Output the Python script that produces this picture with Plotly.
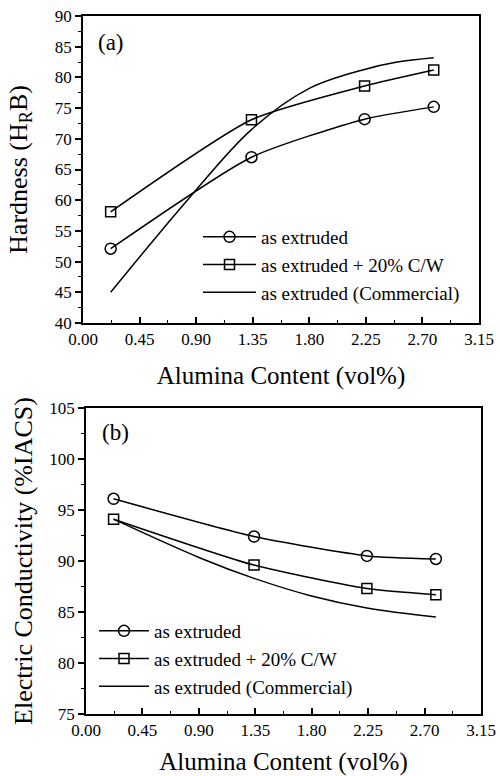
import plotly.graph_objects as go

# ---- data ----
x_pts = [0.22, 1.34, 2.24, 2.79]
hard_extruded = [52.1, 67.0, 73.2, 75.2]
hard_cw = [58.1, 73.1, 78.6, 81.2]
hard_comm_x = [0.22, 0.83, 1.34, 1.80, 2.24, 2.50, 2.79]
hard_comm_y = [45.0, 60.0, 71.5, 78.2, 81.3, 82.5, 83.2]

cond_extruded = [96.1, 92.4, 90.5, 90.2]
cond_cw = [94.1, 89.6, 87.3, 86.7]
cond_comm_x = [0.22, 0.91, 1.34, 1.79, 2.24, 2.79]
cond_comm_y = [94.1, 90.3, 88.3, 86.6, 85.4, 84.5]

x_ticks = [0.00, 0.45, 0.90, 1.35, 1.80, 2.25, 2.70, 3.15]
names = ["as extruded", "as extruded + 20% C/W", "as extruded (Commercial)"]

FONT = "Liberation Serif"
BLACK = "black"

fig = go.Figure()

def add_panel(xa, ya, leg, y1, y2, cx, cy):
    fig.add_trace(go.Scatter(x=x_pts, y=y1, name=names[0], mode="lines+markers",
        line=dict(color=BLACK, width=1.5, shape="spline", smoothing=0.6),
        marker=dict(symbol="circle-open", size=11, color=BLACK, line=dict(width=1.5)),
        xaxis=xa, yaxis=ya, legend=leg))
    fig.add_trace(go.Scatter(x=x_pts, y=y2, name=names[1], mode="lines+markers",
        line=dict(color=BLACK, width=1.5, shape="spline", smoothing=0.6),
        marker=dict(symbol="square-open", size=10, color=BLACK, line=dict(width=1.5)),
        xaxis=xa, yaxis=ya, legend=leg))
    fig.add_trace(go.Scatter(x=cx, y=cy, name=names[2], mode="lines",
        line=dict(color=BLACK, width=1.5, shape="spline", smoothing=1.0),
        xaxis=xa, yaxis=ya, legend=leg))

add_panel("x", "y", "legend", hard_extruded, hard_cw, hard_comm_x, hard_comm_y)
add_panel("x2", "y2", "legend2", cond_extruded, cond_cw, cond_comm_x, cond_comm_y)

W, H = 500, 776
def fy(p):
    return (H - p) / H

xcommon = dict(range=[0, 3.15], tickvals=x_ticks, ticktext=[f"{v:.2f}" for v in x_ticks],
               ticks="inside", ticklen=6, tickwidth=1.5, tickcolor=BLACK,
               minor=dict(dtick=0.225, tick0=0, ticks="inside", ticklen=3, tickcolor=BLACK, tickwidth=1.2),
               showline=True, linecolor=BLACK, linewidth=1.5, mirror=True,
               showgrid=False, zeroline=False, automargin=False,
               tickfont=dict(family=FONT, size=17, color=BLACK),
               title=dict(text="Alumina Content (vol%)", font=dict(family=FONT, size=25, color=BLACK), standoff=18))
ycommon = dict(ticks="outside", ticklen=6, tickwidth=1.5, tickcolor=BLACK, dtick=5,
               minor=dict(dtick=2.5, ticks="outside", ticklen=3, tickcolor=BLACK, tickwidth=1.2),
               showline=True, linecolor=BLACK, linewidth=1.5, mirror=True,
               showgrid=False, zeroline=False, automargin=False,
               tickfont=dict(family=FONT, size=17, color=BLACK))

fig.update_layout(
    width=W, height=H, margin=dict(l=0, r=0, t=0, b=0, autoexpand=False),
    paper_bgcolor="white", plot_bgcolor="white",
    font=dict(family=FONT, color=BLACK),
    xaxis=dict(xcommon, domain=[83 / W, 479 / W], anchor="y"),
    yaxis=dict(ycommon, domain=[fy(323), fy(16)], range=[40, 90], tick0=40, anchor="x",
               title=dict(text="Hardness (H<sub>R</sub>B)", font=dict(family=FONT, size=26, color=BLACK), standoff=20)),
    xaxis2=dict(xcommon, domain=[86 / W, 481 / W], anchor="y2"),
    yaxis2=dict(ycommon, domain=[fy(714), fy(408)], range=[75, 105], tick0=75, anchor="x2",
                title=dict(text="Electric Conductivity (%IACS)", font=dict(family=FONT, size=26, color=BLACK), standoff=9)),
    legend=dict(x=198 / W, y=fy(218), xanchor="left", yanchor="top", bgcolor="rgba(0,0,0,0)",
                font=dict(family=FONT, size=19, color=BLACK), itemwidth=53, tracegroupgap=0),
    legend2=dict(x=94 / W, y=fy(612), xanchor="left", yanchor="top", bgcolor="rgba(0,0,0,0)",
                 font=dict(family=FONT, size=19, color=BLACK), itemwidth=50, tracegroupgap=0),
    annotations=[
        dict(text="(a)", x=96 / W, y=fy(42), xref="paper", yref="paper", xanchor="left", yanchor="middle",
             showarrow=False, font=dict(family=FONT, size=23, color=BLACK)),
        dict(text="(b)", x=100 / W, y=fy(432), xref="paper", yref="paper", xanchor="left", yanchor="middle",
             showarrow=False, font=dict(family=FONT, size=23, color=BLACK)),
    ],
)

fig.write_html("out.html")
